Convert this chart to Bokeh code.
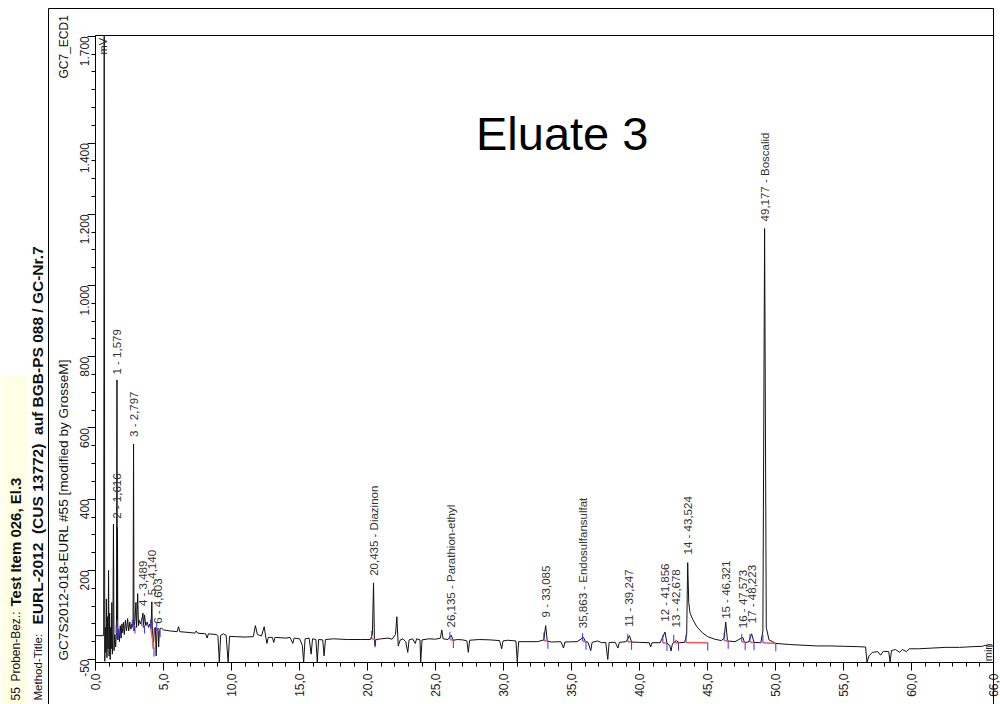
from math import pi
from bokeh.plotting import figure
from bokeh.models import (ColumnDataSource, Range1d, FixedTicker, Label, BoxAnnotation)
from bokeh.core.properties import value
from bokeh.embed import file_html
from bokeh.resources import INLINE

FONT = "Liberation Sans"

# ---- chromatogram trace (time in min, signal in mV) ----
time_min = [0.00, 0.60, 0.64, 0.68, 0.72, 0.76, 0.80, 0.84, 0.88, 0.92, 0.96, 1.00, 1.04, 1.08, 1.12,
            1.16, 1.20, 1.24, 1.28, 1.32, 1.36, 1.42, 1.48, 1.54, 1.579, 1.60, 1.616, 1.64, 1.70, 1.76,
            1.82, 1.88, 1.94, 2.00, 2.06, 2.12, 2.20, 2.28, 2.36, 2.44, 2.52, 2.60, 2.68, 2.76, 2.797,
            2.83, 2.90, 2.97, 3.02, 3.10, 3.16, 3.22, 3.30, 3.40, 3.489, 3.53, 3.60, 3.70, 3.80, 3.90,
            4.00, 4.08, 4.140, 4.18, 4.25, 4.32, 4.40, 4.46, 4.52, 4.603, 4.64, 4.70, 4.85, 5.00,
            5.5, 6.0, 6.1, 6.2, 6.8, 7.3, 7.4, 7.5, 8.1, 8.2, 8.3, 8.9, 9.0, 9.1, 9.2, 9.4, 9.6, 9.75,
            9.85, 10.3, 11.0, 11.6, 11.75, 11.9, 12.2, 12.4, 12.5, 12.6, 12.7, 13.0, 13.1, 13.2, 14.0,
            14.3, 14.5, 14.6, 15.0, 15.2, 15.3, 15.4, 15.7, 15.85, 15.95, 16.2, 16.3, 16.4, 16.7, 16.8,
            16.9, 17.5, 18.5, 19.5, 20.2, 20.35, 20.435, 20.5, 20.55, 20.6, 21.0, 21.5, 21.8, 22.05,
            22.15, 22.25, 22.4, 22.6, 22.8, 22.95, 23.05, 23.3, 23.5, 23.6, 23.85, 23.9, 24.0, 24.5,
            25.0, 25.35, 25.45, 25.55, 25.9, 26.135, 26.3, 26.6, 27.0, 27.3, 27.4, 27.5, 28.2, 29.0,
            29.7, 29.85, 29.95, 30.3, 30.9, 31.0, 31.1, 31.5, 32.5, 32.95, 33.085, 33.2, 33.5, 34.2,
            34.4, 34.5, 35.4, 35.863, 36.0, 36.2, 36.4, 36.5, 36.9, 37.2, 37.5, 37.65, 37.75, 38.2,
            38.4, 38.5, 39.0, 39.247, 39.4, 40.0, 40.7, 40.8, 40.9, 41.5, 41.856, 42.0, 42.2, 42.3,
            42.4, 42.678, 42.9, 43.3, 43.45, 43.524, 43.6, 43.7, 43.9, 44.2, 44.6, 45.0, 45.5, 46.0,
            46.2, 46.321, 46.45, 47.0, 47.573, 47.7, 48.0, 48.223, 48.4, 48.9, 49.05, 49.177, 49.3,
            49.5, 50.0, 51.0, 52.0, 53.0, 54.0, 55.0, 56.0, 56.6, 56.7, 56.85, 57.1, 57.5, 57.7, 57.9,
            58.3, 58.4, 58.5, 58.8, 59.1, 59.3, 59.6, 59.8, 60.5, 61.5, 62.5, 63.5, 64.5, 65.2, 65.4,
            65.6, 66.0]
signal_mv = [17, 17, 1700, -55, 40, -30, 120, -45, 70, -20, 200, -40, 80, -50, 40,
             -20, 110, -35, 30, 330, -25, 20, -15, 25, 735, 60, 320, 5, 35, 0,
             45, 10, 50, 25, 55, 20, 60, 30, 65, 30, 55, 35, 50, 40, 555,
             30, 60, 110, 40, 135, 45, 60, 50, 60, 80, 40, 75, 45, 55, 40,
             50, 35, 112, 30, -20, 35, 40, -40, 30, 38, -15, 35, 38, 33,
             30, 28, 42, 28, 26, 24, 30, 24, 22, 10, 22, 20, 15, -58, 18, 22, 18, -58,
             15, 14, 13, 14, 45, 20, 16, 42, 16, -5, 12, 12, -2, 12, 10,
             12, -5, 10, 8, -10, -58, 8, 10, -35, 8, 6, -58, 6, 5, -40,
             6, 8, 6, 6, 6, 20, 165, 5, -12, 6, 8, 10, 7, 20,
             70, -12, 5, 8, 0, -30, 5, 8, -5, 8, 5, -58, 5, 8,
             7, 10, 33, 8, 6, 18, 4, 6, 5, 2, -30, 4, 6, 5,
             3, -20, 2, 4, 2, -58, 0, 0, 0, 5, 45, 2, -1, 0,
             -18, -1, 0, 12, 1, -2, -25, -2, 2, -3, -2, -50, -2, -2,
             -18, -2, 0, 17, -1, -2, -3, -15, -3, -3, 27, -4, -10, -26,
             -6, 3, -3, -2, 20, 222, 110, 80, 62, 42, 25, 14, 7, 3,
             10, 55, 2, 0, 12, -2, -1, 22, -2, -3, 30, 1160, 40,
             5, -5, -8, -10, -12, -12, -13, -14, -15, -58, -40, -30, -28, -38, -27,
             -28, -58, -25, -22, -30, -22, -28, -20, -20, -18, -16, -16, -14, -13, -10,
             -13, -12]

# ---- peak annotations ----
peak_labels = ["1 - 1,579", "2 - 1,616", "3 - 2,797", "4 - 3,489", "5 - 4,140", "6 - 4,603",
               "20,435 - Diazinon", "26,135 - Parathion-ethyl", "9 - 33,085",
               "35,863 - Endosulfansulfat", "11 - 39,247", "12 - 41,856", "13 - 42,678",
               "14 - 43,524", "15 - 46,321", "16 - 47,573", "17 - 48,223", "49,177 - Boscalid"]
peak_time = [1.579, 1.616, 2.797, 3.489, 4.140, 4.603, 20.435, 26.135, 33.085, 35.863, 39.247,
             41.856, 42.678, 43.524, 46.321, 47.573, 48.223, 49.177]
peak_label_mv = [750, 345, 575, 100, 130, 50, 185, 40, 68, 38, 42, 56, 40, 245, 64, 38, 52, 1180]
peak_start = [1.52, 1.60, 2.70, 3.40, 4.05, 4.50, 20.30, 26.05, 32.95, 35.80, 39.12, 41.70, 42.50,
              43.40, 46.20, 47.50, 48.10, 49.05]
peak_end = [1.60, 1.70, 2.90, 3.60, 4.30, 4.75, 20.55, 26.30, 33.25, 36.05, 39.40, 42.00, 42.85,
            45.00, 46.50, 47.75, 48.40, 50.00]
base_start_mv = [25, 40, 40, 45, 40, 30, 8, 6, 3, 2, 0, -3, -3, -2, 3, 0, -1, -3]
base_end_mv = [40, 35, 45, 45, -20, 35, 6, 4, 2, -1, -1, -4, -3, -3, 2, -2, -2, -5]

x_ticks = [0, 5, 10, 15, 20, 25, 30, 35, 40, 45, 50, 55, 60, 66]
x_tick_labels = ["0,0", "5,0", "10,0", "15,0", "20,0", "25,0", "30,0", "35,0", "40,0", "45,0",
                 "50,0", "55,0", "60,0", "66,0"]
y_ticks = [-50, 200, 400, 600, 800, 1000, 1200, 1400, 1700]
y_tick_labels = ["-50", "200", "400", "600", "800", "1.000", "1.200", "1.400", "1.700"]

# data window of the chromatogram and its place on the page (px)
T0, T1 = 0.0, 66.0
V0, V1 = -58.5, 1702.0
W, H = 1000, 704
PX_L, PX_R, PX_T, PX_B = 95, 993, 35, 662   # plot-area edges on the page

kx = (PX_R - PX_L) / (T1 - T0)
ky = (PX_B - PX_T) / (V1 - V0)
x_range = Range1d(T0 - PX_L / kx, T1 + (W - PX_R) / kx)
y_range = Range1d(V0 - (H - PX_B) / ky, V1 + PX_T / ky)

p = figure(width=W, height=H, x_range=x_range, y_range=y_range,
           output_backend="svg", toolbar_location=None, min_border=0)
p.xgrid.visible = False
p.ygrid.visible = False
p.outline_line_color = None
p.background_fill_color = "white"
p.border_fill_color = "white"

p.xaxis[0].fixed_location = V0
p.yaxis[0].fixed_location = T0
p.xaxis[0].bounds = (T0, T1)
p.yaxis[0].bounds = (V0, V1)

for ax, ticks, labels in ((p.xaxis[0], x_ticks, x_tick_labels), (p.yaxis[0], y_ticks, y_tick_labels)):
    ax.major_label_overrides = {t: l for t, l in zip(ticks, labels)}
    ax.major_label_orientation = pi / 2
    ax.major_label_text_font = FONT
    ax.major_label_text_font_size = "12px"
    ax.major_label_text_color = "#222222"
    ax.axis_line_color = "black"
    ax.major_tick_line_color = "black"
    ax.minor_tick_line_color = "black"
    ax.major_tick_in = 0
    ax.minor_tick_in = 0
    ax.major_tick_out = 8
    ax.minor_tick_out = 4
    ax.major_label_standoff = 3

p.xaxis[0].ticker = FixedTicker(ticks=x_ticks, minor_ticks=list(range(0, 67)))
p.yaxis[0].ticker = FixedTicker(ticks=y_ticks, minor_ticks=list(range(-50, 1701, 50)))

# page decorations (screen units: from the page's bottom-left corner)
def sy(y_top):
    return H - y_top

p.add_layout(BoxAnnotation(left=0, right=27, bottom=sy(710), top=sy(375),
                           left_units="screen", right_units="screen", top_units="screen",
                           bottom_units="screen", fill_color="#ffffe6", fill_alpha=1, line_alpha=0,
                           level="underlay"))
p.add_layout(BoxAnnotation(left=48, right=PX_R, bottom=sy(712), top=sy(8),
                           left_units="screen", right_units="screen", top_units="screen",
                           bottom_units="screen", fill_alpha=0, line_color="black", line_alpha=1,
                           line_width=1))
# plot-area frame
p.add_layout(BoxAnnotation(left=T0, right=T1, bottom=V0, top=V1, fill_alpha=0,
                           line_color="black", line_alpha=1, line_width=1))

src = ColumnDataSource(dict(t=time_min, v=signal_mv))
p.line("t", "v", source=src, line_color="#111111", line_width=1)

# integration baselines and markers
bsrc = ColumnDataSource(dict(x0=peak_start, x1=peak_end, y0=base_start_mv, y1=base_end_mv,
                             y0u=[b + 22 for b in base_start_mv], y1d=[b - 22 for b in base_end_mv]))
p.segment("x0", "y0", "x1", "y1", source=bsrc, line_color="#ff5555", line_width=1.5)
p.segment("x0", "y0", "x0", "y0u", source=bsrc, line_color="#3333ff", line_width=1)
p.segment("x1", "y1", "x1", "y1d", source=bsrc, line_color="#3333ff", line_width=1)

lsrc = ColumnDataSource(dict(t=peak_time, v=peak_label_mv, txt=peak_labels))
p.text("t", "v", text="txt", source=lsrc, angle=pi / 2, text_align="left", text_baseline="middle",
       text_font=value(FONT), text_font_size="11.5px", text_color="#333333")

p.add_layout(Label(x=0.55, y=1695, text="mV", angle=pi / 2, text_align="right", text_baseline="middle",
                   text_font=FONT, text_font_size="11px", text_color="#222222"))
p.add_layout(Label(x=65.6, y=-55, text="min", angle=pi / 2, text_align="left", text_baseline="middle",
                   text_font=FONT, text_font_size="11px", text_color="#222222"))
p.add_layout(Label(x=34.3, y=1428, text="Eluate 3", text_align="center", text_baseline="alphabetic",
                   text_font=FONT, text_font_size="47px", text_color="black"))

def vlabel(x, y_top, text, bold=False, size="15px"):
    p.add_layout(Label(x=x, y=sy(y_top), x_units="screen", y_units="screen", text=text, angle=pi / 2,
                       text_align="left", text_baseline="middle", text_font=FONT,
                       text_font_size=size, text_font_style="bold" if bold else "normal",
                       text_color="#111111"))

NB = "\u00a0"
vlabel(15, 700, "55", size="12px")
vlabel(15, 681, "Proben-Bez.:", size="12px")
vlabel(15, 606, "Test Item 026, El.3", bold=True)
vlabel(37, 700, "Method-Title:", size="11.5px")
vlabel(37, 624, "EURL-2012" + NB * 2 + "(CUS 13772)" + NB * 2 + "auf BGB-PS 088 / GC-Nr.7", bold=True,
       size="15.5px")
vlabel(63, 660, "GC7S2012-018-EURL #55 [modified by GrosseM]", size="13.6px")
vlabel(63, 78, "GC7_ECD1", size="12px")

open("out.html", "w").write(file_html(p, INLINE))
